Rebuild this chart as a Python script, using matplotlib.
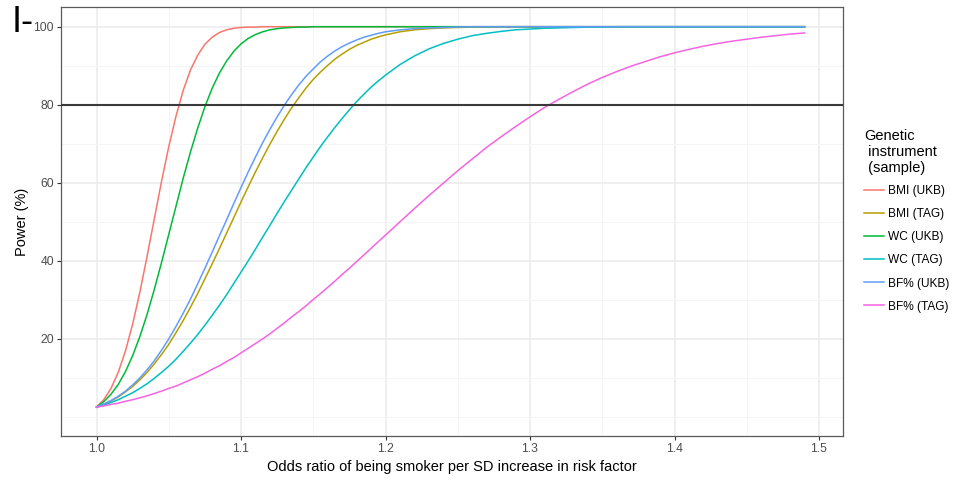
import matplotlib
matplotlib.use("Agg")
import matplotlib.pyplot as plt
from matplotlib.ticker import FixedLocator

plt.rcParams['font.family'] = ['Liberation Sans', 'DejaVu Sans']

# Odds ratio grid (x values)
odds_ratio = [1.000, 1.005, 1.010, 1.015, 1.020, 1.025, 1.030, 1.035, 1.040, 1.045,
              1.050, 1.055, 1.060, 1.065, 1.070, 1.075, 1.080, 1.085, 1.090, 1.095,
              1.100, 1.105, 1.110, 1.115, 1.120, 1.125, 1.130, 1.135, 1.140, 1.145,
              1.150, 1.155, 1.160, 1.165, 1.170, 1.175, 1.180, 1.185, 1.190, 1.195,
              1.200, 1.21, 1.22, 1.23, 1.24, 1.25, 1.26, 1.27, 1.28, 1.29,
              1.30, 1.31, 1.32, 1.33, 1.34, 1.35, 1.36, 1.37, 1.38, 1.39,
              1.40, 1.41, 1.42, 1.43, 1.44, 1.45, 1.46, 1.47, 1.48, 1.49]

bmi_ukb = [2.5, 4.4, 7.3, 11.4, 16.9, 23.8, 32.0, 41.2, 50.8, 60.4,
           69.3, 77.1, 83.7, 88.9, 92.7, 95.5, 97.3, 98.5, 99.2, 99.6,
           99.8, 99.9, 99.9, 100.0, 100.0, 100.0, 100.0, 100.0, 100.0, 100.0,
           100.0, 100.0, 100.0, 100.0, 100.0, 100.0, 100.0, 100.0, 100.0, 100.0,
           100.0, 100.0, 100.0, 100.0, 100.0, 100.0, 100.0, 100.0, 100.0, 100.0,
           100.0, 100.0, 100.0, 100.0, 100.0, 100.0, 100.0, 100.0, 100.0, 100.0,
           100.0, 100.0, 100.0, 100.0, 100.0, 100.0, 100.0, 100.0, 100.0, 100.0]

bmi_tag = [2.5, 3.2, 4.1, 5.1, 6.4, 7.8, 9.5, 11.4, 13.6, 16.0,
           18.6, 21.6, 24.7, 28.1, 31.6, 35.4, 39.2, 43.1, 47.1, 51.1,
           55.1, 59.0, 62.8, 66.4, 69.9, 73.2, 76.3, 79.2, 81.8, 84.3,
           86.5, 88.4, 90.1, 91.7, 93.0, 94.2, 95.2, 96.0, 96.8, 97.4,
           97.9, 98.7, 99.2, 99.5, 99.7, 99.8, 99.9, 99.9, 100.0, 100.0,
           100.0, 100.0, 100.0, 100.0, 100.0, 100.0, 100.0, 100.0, 100.0, 100.0,
           100.0, 100.0, 100.0, 100.0, 100.0, 100.0, 100.0, 100.0, 100.0, 100.0]

wc_ukb = [2.5, 3.9, 5.8, 8.3, 11.6, 15.7, 20.6, 26.3, 32.7, 39.6,
          46.8, 54.0, 61.2, 67.9, 74.0, 79.5, 84.2, 88.1, 91.2, 93.7,
          95.6, 97.0, 98.0, 98.7, 99.2, 99.5, 99.7, 99.8, 99.9, 99.9,
          100.0, 100.0, 100.0, 100.0, 100.0, 100.0, 100.0, 100.0, 100.0, 100.0,
          100.0, 100.0, 100.0, 100.0, 100.0, 100.0, 100.0, 100.0, 100.0, 100.0,
          100.0, 100.0, 100.0, 100.0, 100.0, 100.0, 100.0, 100.0, 100.0, 100.0,
          100.0, 100.0, 100.0, 100.0, 100.0, 100.0, 100.0, 100.0, 100.0, 100.0]

wc_tag = [2.5, 3.0, 3.7, 4.4, 5.3, 6.2, 7.3, 8.5, 9.9, 11.4,
          13.0, 14.8, 16.8, 18.9, 21.1, 23.5, 26.0, 28.6, 31.3, 34.2,
          37.1, 40.0, 43.0, 46.1, 49.1, 52.2, 55.2, 58.1, 61.0, 63.9,
          66.6, 69.3, 71.8, 74.2, 76.5, 78.7, 80.8, 82.7, 84.5, 86.1,
          87.6, 90.3, 92.5, 94.3, 95.7, 96.8, 97.7, 98.3, 98.8, 99.2,
          99.4, 99.6, 99.7, 99.8, 99.9, 99.9, 100.0, 100.0, 100.0, 100.0,
          100.0, 100.0, 100.0, 100.0, 100.0, 100.0, 100.0, 100.0, 100.0, 100.0]

bf_ukb = [2.5, 3.3, 4.2, 5.3, 6.6, 8.2, 10.0, 12.1, 14.4, 17.1,
          20.0, 23.2, 26.6, 30.2, 34.1, 38.1, 42.2, 46.4, 50.5, 54.7,
          58.8, 62.8, 66.6, 70.3, 73.7, 76.9, 79.9, 82.6, 85.1, 87.3,
          89.2, 91.0, 92.5, 93.8, 94.9, 95.8, 96.6, 97.3, 97.8, 98.3,
          98.7, 99.2, 99.5, 99.7, 99.8, 99.9, 100.0, 100.0, 100.0, 100.0,
          100.0, 100.0, 100.0, 100.0, 100.0, 100.0, 100.0, 100.0, 100.0, 100.0,
          100.0, 100.0, 100.0, 100.0, 100.0, 100.0, 100.0, 100.0, 100.0, 100.0]

bf_tag = [2.5, 2.8, 3.2, 3.5, 4.0, 4.4, 4.9, 5.4, 6.0, 6.6,
          7.3, 7.9, 8.7, 9.5, 10.3, 11.2, 12.2, 13.1, 14.2, 15.2,
          16.4, 17.6, 18.8, 20.0, 21.3, 22.7, 24.1, 25.6, 27.0, 28.5,
          30.1, 31.6, 33.2, 34.8, 36.5, 38.1, 39.8, 41.5, 43.2, 44.9,
          46.6, 50.0, 53.4, 56.7, 59.9, 63.1, 66.1, 69.1, 71.8, 74.4,
          76.9, 79.3, 81.4, 83.4, 85.3, 87.0, 88.5, 89.9, 91.1, 92.3,
          93.3, 94.2, 95.0, 95.7, 96.3, 96.8, 97.3, 97.7, 98.1, 98.4]

series_labels = ["BMI (UKB)", "BMI (TAG)", "WC (UKB)", "WC (TAG)", "BF% (UKB)", "BF% (TAG)"]
series_values = [bmi_ukb, bmi_tag, wc_ukb, wc_tag, bf_ukb, bf_tag]
series_colors = ["#F8766D", "#B79F00", "#00BA38", "#00BFC4", "#619CFF", "#F564E3"]

power_threshold = 80
x_ticks = [1.0, 1.1, 1.2, 1.3, 1.4, 1.5]
x_tick_labels = ["1.0", "1.1", "1.2", "1.3", "1.4", "1.5"]
x_minor = [1.05, 1.15, 1.25, 1.35, 1.45]
y_ticks = [20, 40, 60, 80, 100]
y_minor = [0, 10, 30, 50, 70, 90]

W, H = 955, 478
fig = plt.figure(figsize=(W / 100, H / 100), dpi=100)
ax = fig.add_axes([61 / W, 1 - 436 / H, (843 - 61) / W, (436 - 7) / H])

ax.set_xlim(0.9754, 1.5166)
ax.set_ylim(-4.9, 105.05)

ax.set_xticks(x_ticks)
ax.set_xticklabels(x_tick_labels)
ax.xaxis.set_minor_locator(FixedLocator(x_minor))
ax.set_yticks(y_ticks)
ax.yaxis.set_minor_locator(FixedLocator(y_minor))

ax.grid(which='major', color='#EBEBEB', linewidth=1.1, zorder=0)
ax.grid(which='minor', color='#F4F4F4', linewidth=0.6, zorder=0)
ax.set_axisbelow(True)

for lab, vals, col in zip(series_labels, series_values, series_colors):
    ax.plot(odds_ratio, vals, color=col, linewidth=1.1, label=lab, zorder=3)

ax.axhline(power_threshold, color='#3a3a3a', linewidth=1.5, zorder=4)

for s in ax.spines.values():
    s.set_color('#5a5a5a')
    s.set_linewidth(0.9)

ax.tick_params(which='major', length=3, width=0.8, color='#333333',
               labelcolor='#4D4D4D', labelsize=8.7, pad=2)
ax.tick_params(which='minor', length=0)

ax.set_xlabel("Odds ratio of being smoker per SD increase in risk factor",
              fontsize=10.5, color='black', labelpad=3.5)
ax.set_ylabel("Power (%)", fontsize=10.5, color='black', labelpad=3.5)

leg = ax.legend(loc='upper left', bbox_to_anchor=(864 / W, 1 - 129 / H),
                bbox_transform=fig.transFigure, frameon=False,
                title="Genetic\n instrument\n (sample)", title_fontsize=10.5,
                fontsize=8.6, handlelength=1.65, handletextpad=0.4,
                labelspacing=0.93, borderpad=0, borderaxespad=0,
                alignment='left')
leg._legend_box.sep = 7
for line in leg.get_lines():
    line.set_linewidth(1.1)

fig.text(12 / W, 1 - 23 / H, "I-", fontsize=26, va='center', ha='left', color='black')

fig.savefig("out.png", dpi=100)
